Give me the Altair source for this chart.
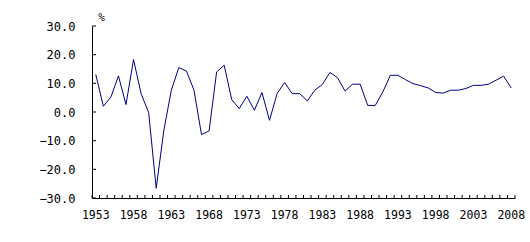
import altair as alt
import pandas as pd

years = list(range(1953, 2009))
values = [13.1, 2.0, 5.2, 12.6, 2.6, 18.3, 6.4, -0.2, -26.6, -6.6,
          7.6, 15.5, 14.3, 7.6, -7.9, -6.6, 14.0, 16.3, 4.3, 1.2,
          5.5, 0.6, 6.8, -2.9, 6.4, 10.3, 6.4, 6.4, 3.9, 7.6,
          9.6, 13.8, 12.0, 7.3, 9.7, 9.7, 2.3, 2.3, 7.0, 12.8,
          12.8, 11.3, 9.9, 9.2, 8.4, 6.8, 6.6, 7.6, 7.6, 8.2,
          9.3, 9.3, 9.7, 11.1, 12.5, 8.4]
y_ticks = [-30, -20, -10, 0, 10, 20, 30]
x_labels = [1953, 1958, 1963, 1968, 1973, 1978, 1983, 1988, 1993, 1998, 2003, 2008]

df = pd.DataFrame({"year": years, "value": values})
tick_df = pd.DataFrame({"t": y_ticks})
last_df = pd.DataFrame({"year": [years[-1]]})

FONT = "DejaVu Sans Mono"
W, H = 423, 172

xscale = alt.Scale(paddingInner=0, paddingOuter=0)
yscale = alt.Scale(domain=[-30, 30], nice=False, zero=False)

x_axis = alt.Axis(values=x_labels, labelAngle=0, ticks=False, domain=True,
                  domainColor="black", labelFont=FONT, labelFontSize=11.5,
                  labelColor="black", labelPadding=11, title=None, grid=False,
                  labelOverlap=False)
y_axis = alt.Axis(values=y_ticks, format=".1f", ticks=False, domain=True,
                  domainColor="black", labelFont=FONT, labelFontSize=12,
                  labelColor="black", labelPadding=17, grid=False,
                  labelOverlap=False, labelBound=False,
                  title="%", titleAngle=0, titleX=9, titleY=-9,
                  titleAlign="center", titleBaseline="middle",
                  titleFont=FONT, titleFontSize=11, titleFontWeight="normal",
                  titleColor="black")

line = alt.Chart(df).mark_line(color="#000080", strokeWidth=1).encode(
    x=alt.X("year:O", scale=xscale, axis=x_axis),
    y=alt.Y("value:Q", scale=yscale, axis=y_axis),
)

ytick = alt.Chart(tick_df).mark_rule(color="black", strokeWidth=1).encode(
    y=alt.Y("t:Q", scale=yscale, axis=y_axis),
    x=alt.value(0),
    x2=alt.value(4),
)

xtick = alt.Chart(df).mark_rule(color="black", strokeWidth=1).encode(
    x=alt.X("year:O", scale=xscale, bandPosition=0, axis=x_axis),
    y=alt.value(H),
    y2=alt.value(H - 3),
)

xtick_end = alt.Chart(last_df).mark_rule(color="black", strokeWidth=1).encode(
    x=alt.X("year:O", scale=xscale, bandPosition=1, axis=x_axis),
    y=alt.value(H),
    y2=alt.value(H - 3),
)

chart = alt.layer(line, ytick, xtick, xtick_end).properties(
    width=W, height=H,
    autosize=alt.AutoSizeParams(type="none"),
    padding={"left": 92, "top": 26, "right": 15, "bottom": 44},
    background="white",
).configure_view(stroke=None)

chart.save("out.html", embed_options={"renderer": "svg", "actions": False})
